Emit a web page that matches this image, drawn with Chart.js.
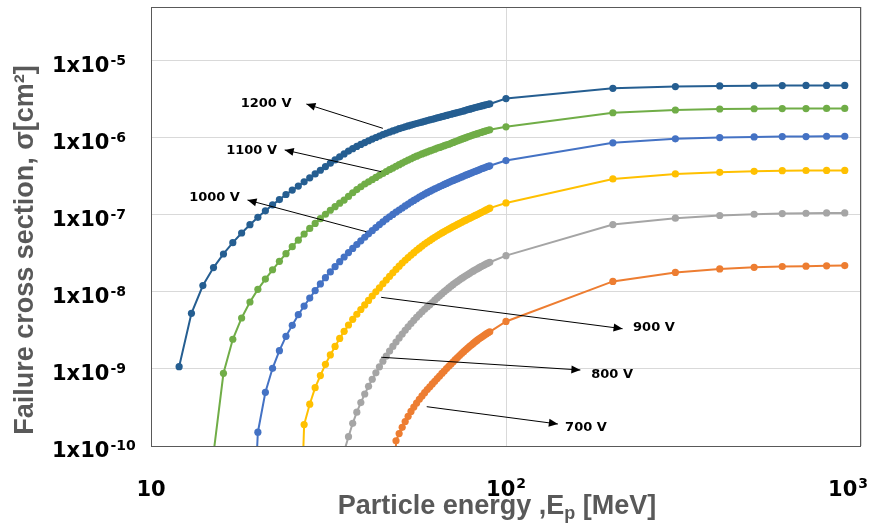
<!DOCTYPE html>
<html>
<head>
<meta charset="utf-8">
<script src="https://cdn.jsdelivr.net/npm/chart.js@4.4.1/dist/chart.umd.min.js"></script>
<style>
  html, body { margin: 0; padding: 0; background: #ffffff; }
  #wrap { width: 871px; height: 526px; }
</style>
</head>
<body>
<div id="wrap"><canvas id="sigmaChart" width="871" height="526"></canvas></div>
<script>
// proton energy grid [MeV]
const energyMeV = [
  12, 13, 14, 15, 16, 17, 18, 19,
  20, 21, 22, 23, 24, 25, 26, 27, 28, 29,
  30, 31, 32, 33, 34, 35, 36, 37, 38, 39,
  40, 41, 42, 43, 44, 45, 46, 47, 48, 49,
  50, 51, 52, 53, 54, 55, 56, 57, 58, 59,
  60, 61, 62, 63, 64, 65, 66, 67, 68, 69,
  70, 71, 72, 73, 74, 75, 76, 77, 78, 79,
  80, 81, 82, 83, 84, 85, 86, 87, 88, 89, 90,
  100, 200, 300, 400, 500, 600, 700, 800, 900
];

// failure cross section [cm^2]; each list starts at its own first energy
const sigma1200V = [
  1.07e-9, 5.27e-9, 1.21e-8, 2.07e-8, 3.11e-8, 4.36e-8, 5.82e-8, 7.46e-8,
  9.31e-8, 1.13e-7, 1.35e-7, 1.58e-7, 1.84e-7, 2.10e-7, 2.37e-7, 2.69e-7, 3.03e-7, 3.40e-7,
  3.80e-7, 4.23e-7, 4.69e-7, 5.18e-7, 5.67e-7, 6.19e-7, 6.73e-7, 7.25e-7, 7.74e-7, 8.21e-7,
  8.70e-7, 9.17e-7, 9.65e-7, 1.012e-6, 1.058e-6, 1.102e-6, 1.145e-6, 1.188e-6, 1.231e-6, 1.273e-6,
  1.316e-6, 1.354e-6, 1.392e-6, 1.429e-6, 1.465e-6, 1.500e-6, 1.536e-6, 1.571e-6, 1.606e-6, 1.641e-6,
  1.676e-6, 1.711e-6, 1.746e-6, 1.781e-6, 1.816e-6, 1.851e-6, 1.886e-6, 1.921e-6, 1.956e-6, 1.991e-6,
  2.026e-6, 2.061e-6, 2.096e-6, 2.131e-6, 2.166e-6, 2.20e-6, 2.24e-6, 2.28e-6, 2.32e-6, 2.36e-6,
  2.40e-6, 2.44e-6, 2.48e-6, 2.51e-6, 2.55e-6, 2.59e-6, 2.62e-6, 2.66e-6, 2.69e-6, 2.73e-6, 2.76e-6,
  3.24e-6, 4.40e-6, 4.63e-6, 4.72e-6, 4.76e-6, 4.78e-6, 4.79e-6, 4.80e-6, 4.80e-6
];
const sigma1100V = [
  8e-11, 8.79e-10, 2.43e-9, 4.59e-9, 7.40e-9,
  1.08e-8, 1.47e-8, 1.94e-8, 2.50e-8, 3.14e-8, 3.87e-8, 4.70e-8, 5.65e-8, 6.67e-8, 7.76e-8,
  8.93e-8, 1.02e-7, 1.15e-7, 1.28e-7, 1.42e-7, 1.56e-7, 1.74e-7, 1.94e-7, 2.13e-7, 2.32e-7,
  2.52e-7, 2.69e-7, 2.87e-7, 3.07e-7, 3.26e-7, 3.45e-7, 3.66e-7, 3.86e-7, 4.06e-7, 4.28e-7,
  4.49e-7, 4.71e-7, 4.92e-7, 5.15e-7, 5.36e-7, 5.59e-7, 5.78e-7, 5.98e-7, 6.18e-7, 6.38e-7,
  6.57e-7, 6.77e-7, 6.95e-7, 7.14e-7, 7.34e-7, 7.52e-7, 7.72e-7, 7.91e-7, 8.09e-7, 8.27e-7,
  8.49e-7, 8.72e-7, 8.95e-7, 9.17e-7, 9.40e-7, 9.62e-7, 9.84e-7, 1.006e-6, 1.028e-6, 1.049e-6,
  1.071e-6, 1.092e-6, 1.113e-6, 1.134e-6, 1.154e-6, 1.175e-6, 1.195e-6, 1.215e-6, 1.235e-6, 1.254e-6, 1.274e-6,
  1.39e-6, 2.12e-6, 2.30e-6, 2.37e-6, 2.39e-6, 2.40e-6, 2.40e-6, 2.41e-6, 2.41e-6
];
const sigma1000V = [
  1e-12,
  1.51e-10, 4.98e-10, 1.02e-9, 1.73e-9, 2.65e-9, 3.69e-9, 5.07e-9, 6.56e-9, 8.32e-9, 1.04e-8,
  1.27e-8, 1.53e-8, 1.82e-8, 2.13e-8, 2.47e-8, 2.84e-8, 3.24e-8, 3.67e-8, 4.13e-8, 4.61e-8,
  5.13e-8, 5.68e-8, 6.25e-8, 6.85e-8, 7.48e-8, 8.13e-8, 8.79e-8, 9.46e-8, 1.014e-7, 1.084e-7,
  1.156e-7, 1.230e-7, 1.306e-7, 1.384e-7, 1.462e-7, 1.542e-7, 1.622e-7, 1.702e-7, 1.782e-7, 1.862e-7,
  1.941e-7, 2.020e-7, 2.098e-7, 2.176e-7, 2.253e-7, 2.331e-7, 2.408e-7, 2.486e-7, 2.564e-7, 2.642e-7,
  2.720e-7, 2.799e-7, 2.877e-7, 2.956e-7, 3.036e-7, 3.115e-7, 3.195e-7, 3.275e-7, 3.356e-7, 3.438e-7,
  3.519e-7, 3.601e-7, 3.684e-7, 3.766e-7, 3.848e-7, 3.930e-7, 4.013e-7, 4.095e-7, 4.177e-7, 4.259e-7, 4.340e-7,
  5.07e-7, 8.63e-7, 9.73e-7, 1.01e-6, 1.03e-6, 1.04e-6, 1.04e-6, 1.05e-6, 1.05e-6
];
const sigma900V = [
  1e-12,
  1.90e-10, 3.49e-10, 5.71e-10,
  8.22e-10, 1.15e-9, 1.52e-9, 1.96e-9, 2.49e-9, 3.08e-9, 3.72e-9, 4.41e-9, 5.13e-9, 5.92e-9,
  6.79e-9, 7.77e-9, 8.85e-9, 1.003e-8, 1.133e-8, 1.275e-8, 1.429e-8, 1.594e-8, 1.772e-8, 1.961e-8,
  2.162e-8, 2.373e-8, 2.578e-8, 2.791e-8, 3.011e-8, 3.237e-8, 3.469e-8, 3.704e-8, 3.941e-8, 4.180e-8,
  4.418e-8, 4.656e-8, 4.893e-8, 5.129e-8, 5.364e-8, 5.601e-8, 5.840e-8, 6.079e-8, 6.319e-8, 6.559e-8,
  6.800e-8, 7.042e-8, 7.286e-8, 7.532e-8, 7.779e-8, 8.028e-8, 8.279e-8, 8.533e-8, 8.788e-8, 9.045e-8,
  9.307e-8, 9.575e-8, 9.847e-8, 1.0125e-7, 1.041e-7, 1.070e-7, 1.099e-7, 1.129e-7, 1.160e-7, 1.191e-7, 1.223e-7,
  1.43e-7, 2.93e-7, 3.40e-7, 3.57e-7, 3.68e-7, 3.75e-7, 3.77e-7, 3.78e-7, 3.78e-7
];
const sigma800V = [
  8.5e-11, 1.32e-10, 1.97e-10, 2.75e-10, 3.66e-10,
  4.73e-10, 5.96e-10, 7.35e-10, 8.91e-10, 1.067e-9, 1.259e-9, 1.472e-9, 1.706e-9, 1.959e-9, 2.234e-9,
  2.529e-9, 2.844e-9, 3.177e-9, 3.524e-9, 3.890e-9, 4.276e-9, 4.677e-9, 5.093e-9, 5.521e-9, 5.957e-9,
  6.397e-9, 6.839e-9, 7.295e-9, 7.816e-9, 8.356e-9, 8.913e-9, 9.484e-9, 1.007e-8, 1.067e-8, 1.127e-8,
  1.189e-8, 1.250e-8, 1.312e-8, 1.374e-8, 1.436e-8, 1.496e-8, 1.558e-8, 1.620e-8, 1.683e-8, 1.746e-8,
  1.809e-8, 1.873e-8, 1.936e-8, 2.000e-8, 2.063e-8, 2.126e-8, 2.188e-8, 2.249e-8, 2.309e-8, 2.369e-8, 2.427e-8,
  2.96e-8, 7.50e-8, 9.08e-8, 9.82e-8, 1.02e-7, 1.04e-7, 1.05e-7, 1.06e-7, 1.06e-7
];
const sigma700V = [
  1e-12, 1.17e-10,
  1.45e-10, 1.75e-10, 2.08e-10, 2.43e-10, 2.81e-10, 3.20e-10, 3.61e-10, 4.03e-10, 4.47e-10, 4.92e-10,
  5.40e-10, 5.87e-10, 6.39e-10, 6.93e-10, 7.50e-10, 8.10e-10, 8.74e-10, 9.41e-10, 1.011e-9, 1.084e-9,
  1.161e-9, 1.240e-9, 1.322e-9, 1.408e-9, 1.495e-9, 1.585e-9, 1.677e-9, 1.771e-9, 1.867e-9, 1.965e-9,
  2.064e-9, 2.163e-9, 2.262e-9, 2.362e-9, 2.461e-9, 2.560e-9, 2.659e-9, 2.755e-9, 2.850e-9, 2.942e-9, 3.031e-9,
  4.14e-9, 1.37e-8, 1.79e-8, 1.99e-8, 2.09e-8, 2.14e-8, 2.16e-8, 2.18e-8, 2.20e-8
];

const voltages   = ['1200 V', '1100 V', '1000 V', '900 V', '800 V', '700 V'];
const firstE     = [12, 15, 19, 26, 35, 48];
const sigmaLists = [sigma1200V, sigma1100V, sigma1000V, sigma900V, sigma800V, sigma700V];
const colors     = ['#255E91', '#70AD47', '#4472C4', '#FFC000', '#A5A5A5', '#ED7D31'];

// axis decades that get a label
const xTickPowers = [1, 2, 3];
const yTickPowers = [-10, -9, -8, -7, -6, -5];

// callout: label centre, arrow tip, arrow tail (in E [MeV], sigma [cm^2])
const callouts = [
  { text: '1200 V', at: [21.1, 2.75e-6], tip: [27.4, 2.75e-6], tail: [45.0, 1.33e-6] },
  { text: '1100 V', at: [19.2, 6.86e-7], tip: [23.8, 6.97e-7], tail: [44.5, 3.64e-7] },
  { text: '1000 V', at: [15.1, 1.66e-7], tip: [18.7, 1.56e-7], tail: [40.4, 6.05e-8] },
  { text: '900 V',  at: [261, 3.40e-9],  tip: [213, 3.33e-9],  tail: [44.5, 8.51e-9] },
  { text: '800 V',  at: [199, 8.35e-10], tip: [162, 9.70e-10], tail: [44.5, 1.42e-9] },
  { text: '700 V',  at: [168, 1.71e-10], tip: [140, 1.93e-10], tail: [59.8, 3.24e-10] }
];

const datasets = voltages.map((v, k) => {
  const i0 = energyMeV.indexOf(firstE[k]);
  return {
    label: v,
    data: sigmaLists[k].map((s, i) => ({ x: energyMeV[i0 + i], y: s })),
    borderColor: colors[k],
    backgroundColor: colors[k],
    borderWidth: 2,
    pointRadius: 3.6,
    pointBorderWidth: 0,
    pointBackgroundColor: colors[k],
    tension: 0
  };
});

const TICK_FONT = 'bold 21px "DejaVu Sans", Verdana, sans-serif';
const SUP_FONT = 'bold 14px "DejaVu Sans", Verdana, sans-serif';
const TITLE_FONT = 'bold 27px "Liberation Sans", Arial, sans-serif';
const TITLE_SUB = 'bold 18px "Liberation Sans", Arial, sans-serif';
const NOTE_FONT = 'bold 13px "DejaVu Sans", Verdana, sans-serif';

// plot frame drawn under the series
const frame = {
  id: 'frame',
  beforeDatasetsDraw(chart) {
    const { ctx, chartArea: a } = chart;
    ctx.save();
    ctx.strokeStyle = '#595959';
    ctx.lineWidth = 1;
    ctx.strokeRect(a.left + 0.5, a.top + 0.5, a.right - a.left - 1, a.bottom - a.top);
    ctx.restore();
  }
};

// power-of-ten tick labels and axis titles
const axisText = {
  id: 'axisText',
  afterDraw(chart) {
    const { ctx, scales: { x, y } } = chart;
    ctx.save();
    ctx.fillStyle = '#000000';
    ctx.textAlign = 'left';
    ctx.textBaseline = 'alphabetic';

    yTickPowers.forEach(p => {
      const py = y.getPixelForValue(Math.pow(10, p));
      ctx.font = TICK_FONT;
      ctx.fillText('1x10', 52, py + 11);
      const w = ctx.measureText('1x10').width;
      ctx.font = SUP_FONT;
      ctx.fillText(String(p), 52 + w + 1, py + 4);
    });

    xTickPowers.forEach(p => {
      const px = x.getPixelForValue(Math.pow(10, p));
      const sup = p > 1 ? String(p) : '';
      ctx.font = TICK_FONT;
      const w1 = ctx.measureText('10').width;
      ctx.font = SUP_FONT;
      const w2 = sup ? ctx.measureText(sup).width + 1 : 0;
      let left = px - (w1 + w2) / 2;
      if (left + w1 + w2 > 868) left = 868 - w1 - w2;
      ctx.font = TICK_FONT;
      ctx.fillText('10', left, 496);
      if (sup) {
        ctx.font = SUP_FONT;
        ctx.fillText(sup, left + w1 + 1, 488);
      }
    });

    // x title with subscript p
    ctx.fillStyle = '#595959';
    const parts = [['Particle energy ,E', TITLE_FONT, 0], ['p', TITLE_SUB, 5], [' [MeV]', TITLE_FONT, 0]];
    let total = 0;
    parts.forEach(([t, f]) => { ctx.font = f; total += ctx.measureText(t).width; });
    let cx = 497 - total / 2;
    parts.forEach(([t, f, dy]) => {
      ctx.font = f;
      ctx.fillText(t, cx, 514 + dy);
      cx += ctx.measureText(t).width;
    });

    // y title, rotated
    ctx.translate(33, 250);
    ctx.rotate(-Math.PI / 2);
    ctx.font = TITLE_FONT;
    ctx.textAlign = 'center';
    ctx.fillText('Failure cross section, \u03c3[cm\u00b2]', 0, 0);
    ctx.restore();
  }
};

// voltage labels with arrows pointing at the curves
const voltageNotes = {
  id: 'voltageNotes',
  afterDatasetsDraw(chart) {
    const { ctx, scales: { x, y } } = chart;
    const pt = ([e, s]) => [x.getPixelForValue(e), y.getPixelForValue(s)];
    ctx.save();
    ctx.strokeStyle = '#000000';
    ctx.fillStyle = '#000000';
    ctx.lineWidth = 1;
    callouts.forEach(c => {
      const [tx, ty] = pt(c.tip);
      const [sx, sy] = pt(c.tail);
      ctx.beginPath();
      ctx.moveTo(sx, sy);
      ctx.lineTo(tx, ty);
      ctx.stroke();
      const ang = Math.atan2(ty - sy, tx - sx);
      const len = 9, half = 4;
      ctx.beginPath();
      ctx.moveTo(tx, ty);
      ctx.lineTo(tx - len * Math.cos(ang) + half * Math.sin(ang), ty - len * Math.sin(ang) - half * Math.cos(ang));
      ctx.lineTo(tx - len * Math.cos(ang) - half * Math.sin(ang), ty - len * Math.sin(ang) + half * Math.cos(ang));
      ctx.closePath();
      ctx.fill();
      const [lx, ly] = pt(c.at);
      ctx.font = NOTE_FONT;
      ctx.textAlign = 'center';
      ctx.textBaseline = 'middle';
      ctx.fillText(c.text, lx, ly);
    });
    ctx.restore();
  }
};

new Chart(document.getElementById('sigmaChart'), {
  type: 'line',
  data: { datasets },
  options: {
    responsive: false,
    animation: false,
    devicePixelRatio: 1,
    layout: { padding: { top: 7, right: 10, left: 0, bottom: 0 } },
    plugins: { legend: { display: false }, tooltip: { enabled: false } },
    scales: {
      x: {
        type: 'logarithmic',
        min: 10,
        max: 1000,
        afterBuildTicks: s => { s.ticks = xTickPowers.map(p => ({ value: Math.pow(10, p) })); },
        afterFit: s => { s.height = 80; },
        ticks: { display: false },
        grid: { color: '#D9D9D9', lineWidth: 1, drawTicks: false },
        border: { display: false }
      },
      y: {
        type: 'logarithmic',
        min: 1e-10,
        max: 5e-5,
        afterBuildTicks: s => { s.ticks = yTickPowers.map(p => ({ value: Math.pow(10, p) })); },
        afterFit: s => { s.width = 151; },
        ticks: { display: false },
        grid: { color: '#D9D9D9', lineWidth: 1, drawTicks: false },
        border: { display: false }
      }
    }
  },
  plugins: [frame, axisText, voltageNotes]
});
</script>
</body>
</html>
